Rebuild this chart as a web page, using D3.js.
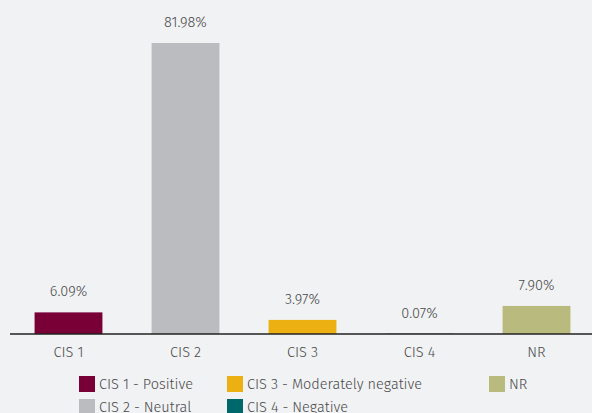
<!DOCTYPE html>
<html><head><meta charset="utf-8">
<script src="https://cdn.jsdelivr.net/npm/d3@7"></script>
<style>
html,body{margin:0;padding:0;background:#f1f2f4;}
svg{display:block;}
text{font-family:"Fira Sans","Noto Sans","Open Sans",sans-serif;}
</style></head><body>
<script>
const categories = ["CIS 1","CIS 2","CIS 3","CIS 4","NR"];
const values = [6.09, 81.98, 3.97, 0.07, 7.90];
const valueLabels = ["6.09%","81.98%","3.97%","0.07%","7.90%"];
const legendLabels = ["CIS 1 - Positive","CIS 2 - Neutral","CIS 3 - Moderately negative","CIS 4 - Negative","NR"];
const colors = ["#780037","#bbbcbf","#ecb012","#00686b","#b9bb7e"];

const W = 592, H = 413;
const svg = d3.select("body").append("svg").attr("width", W).attr("height", H);
svg.append("rect").attr("width", W).attr("height", H).attr("fill", "#f1f2f4");

const x = d3.scaleBand().domain(categories).range([10, 595]).paddingInner(0.42).paddingOuter(0.21);
const y = d3.scaleLinear().domain([0, 81.98]).range([334, 43]);

svg.selectAll("rect.bar").data(values).enter().append("rect")
  .attr("class","bar")
  .attr("x", (d,i) => x(categories[i]))
  .attr("width", x.bandwidth())
  .attr("y", d => y(d))
  .attr("height", d => y(0) - y(d))
  .attr("fill", (d,i) => colors[i]);

svg.selectAll("text.val").data(values).enter().append("text")
  .attr("class","val")
  .attr("x", (d,i) => x(categories[i]) + x.bandwidth()/2)
  .attr("y", d => y(d) - 16)
  .attr("text-anchor","middle")
  .attr("font-size", 14.5)
  .attr("font-weight", 300)
  .attr("fill", "#4a4a4a")
  .text((d,i) => valueLabels[i]);

const xAxis = d3.axisBottom(x).tickSize(0).tickPadding(13);
const gx = svg.append("g").attr("transform", "translate(0,334)").call(xAxis);
gx.select(".domain").remove();
gx.selectAll("text").attr("font-size", 14.5).attr("font-weight", 300).attr("fill", "#4a4a4a").attr("font-family", '"Fira Sans","Noto Sans","Open Sans",sans-serif');
svg.append("line").attr("x1", 10).attr("x2", 592).attr("y1", 334).attr("y2", 334)
  .attr("stroke", "#222").attr("stroke-width", 1.5);

const legendPos = [[79,376],[79,399],[227,376],[227,399],[489,376]];
const lg = svg.selectAll("g.leg").data(legendLabels).enter().append("g")
  .attr("transform", (d,i) => `translate(${legendPos[i][0]},${legendPos[i][1]})`);
lg.append("rect").attr("width", 16).attr("height", 16).attr("fill", (d,i) => colors[i]);
lg.append("text").attr("x", 20).attr("y", 13).attr("font-size", 14.5).attr("font-weight", 300).attr("fill", "#4a4a4a").text(d => d);
</script>
</body></html>
